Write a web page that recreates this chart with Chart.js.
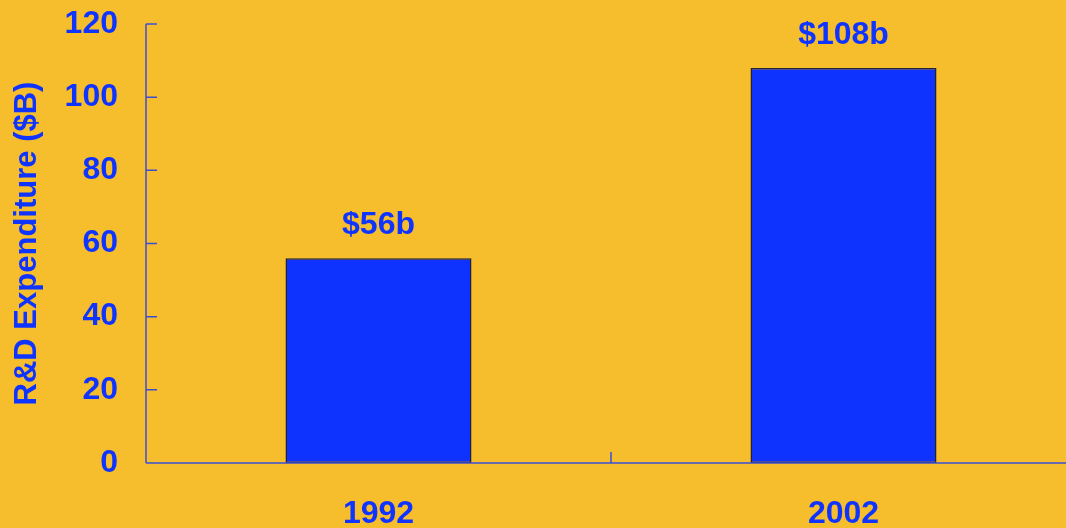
<!DOCTYPE html>
<html>
<head>
<meta charset="utf-8">
<script src="https://cdn.jsdelivr.net/npm/chart.js@4/dist/chart.umd.min.js"></script>
<style>
  html, body { margin: 0; padding: 0; background: #F6BD2C; overflow: hidden; }
  #wrap { position: absolute; left: 0; top: 0; width: 1080px; height: 528px; }
</style>
</head>
<body>
<div id="wrap"><canvas id="c"></canvas></div>
<script>
const categories = ['1992', '2002'];
const values = [56, 108];
const valueLabels = ['$56b', '$108b'];
const yTicks = [0, 20, 40, 60, 80, 100, 120];
const yTitle = 'R&D Expenditure ($B)';

const BLUE = '#1034FF';
const AXIS = '#3A4FD8';
const FONT = '"Liberation Sans", Arial, sans-serif';

const axisPlugin = {
  id: 'axisPlugin',
  afterDatasetsDraw(chart) {
    const ctx = chart.ctx;
    const xs = chart.scales.x, ys = chart.scales.y;
    const top = ys.getPixelForValue(yTicks[yTicks.length - 1]);
    const bottom = ys.getPixelForValue(0);
    const left = chart.chartArea.left;
    ctx.save();
    ctx.strokeStyle = AXIS;
    ctx.lineWidth = 1.5;
    ctx.beginPath();
    ctx.moveTo(left, top); ctx.lineTo(left, bottom);
    ctx.moveTo(left, bottom); ctx.lineTo(chart.width, bottom);
    yTicks.forEach(v => {
      const y = ys.getPixelForValue(v);
      ctx.moveTo(left, y); ctx.lineTo(left + 11, y);
    });
    for (let i = 1; i < categories.length; i++) {
      const x = (xs.getPixelForValue(i - 1) + xs.getPixelForValue(i)) / 2;
      ctx.moveTo(x, bottom); ctx.lineTo(x, bottom - 11);
    }
    ctx.stroke();
    ctx.fillStyle = BLUE;
    ctx.font = 'bold 32px ' + FONT;
    ctx.textAlign = 'center';
    ctx.textBaseline = 'middle';
    const meta = chart.getDatasetMeta(0);
    meta.data.forEach((bar, i) => {
      ctx.fillText(valueLabels[i], bar.x, bar.y - 33);
    });
    ctx.restore();
  }
};

new Chart(document.getElementById('c'), {
  type: 'bar',
  data: {
    labels: categories,
    datasets: [{
      data: values,
      backgroundColor: '#0F33FF',
      borderColor: '#222233',
      borderWidth: 1.5,
      borderSkipped: false,
      categoryPercentage: 1,
      barPercentage: 0.4
    }]
  },
  options: {
    responsive: true,
    maintainAspectRatio: false,
    animation: false,
    layout: { padding: { top: 24, right: 4, left: 0, bottom: 0 } },
    plugins: { legend: { display: false }, tooltip: { enabled: false } },
    scales: {
      x: {
        grid: { display: false, drawTicks: false },
        border: { display: false },
        ticks: { color: BLUE, font: { family: FONT, size: 32, weight: 'bold' }, padding: 32 },
        afterFit(scale) { scale.height = 65; scale.paddingLeft = 0; scale.paddingRight = 0; }
      },
      y: {
        min: 0, max: 120,
        afterBuildTicks(scale) { scale.ticks = yTicks.map(v => ({ value: v })); },
        grid: { display: false, drawTicks: false },
        border: { display: false },
        ticks: { color: BLUE, font: { family: FONT, size: 32, weight: 'bold' }, padding: 28 },
        title: {
          display: true, text: yTitle, color: BLUE,
          font: { family: FONT, size: 31, weight: 'bold' },
          padding: { top: 9, bottom: 0 }
        },
        afterFit(scale) { scale.width = 146; scale.paddingTop = 0; scale.paddingBottom = 0; }
      }
    }
  },
  plugins: [axisPlugin]
});
</script>
</body>
</html>
